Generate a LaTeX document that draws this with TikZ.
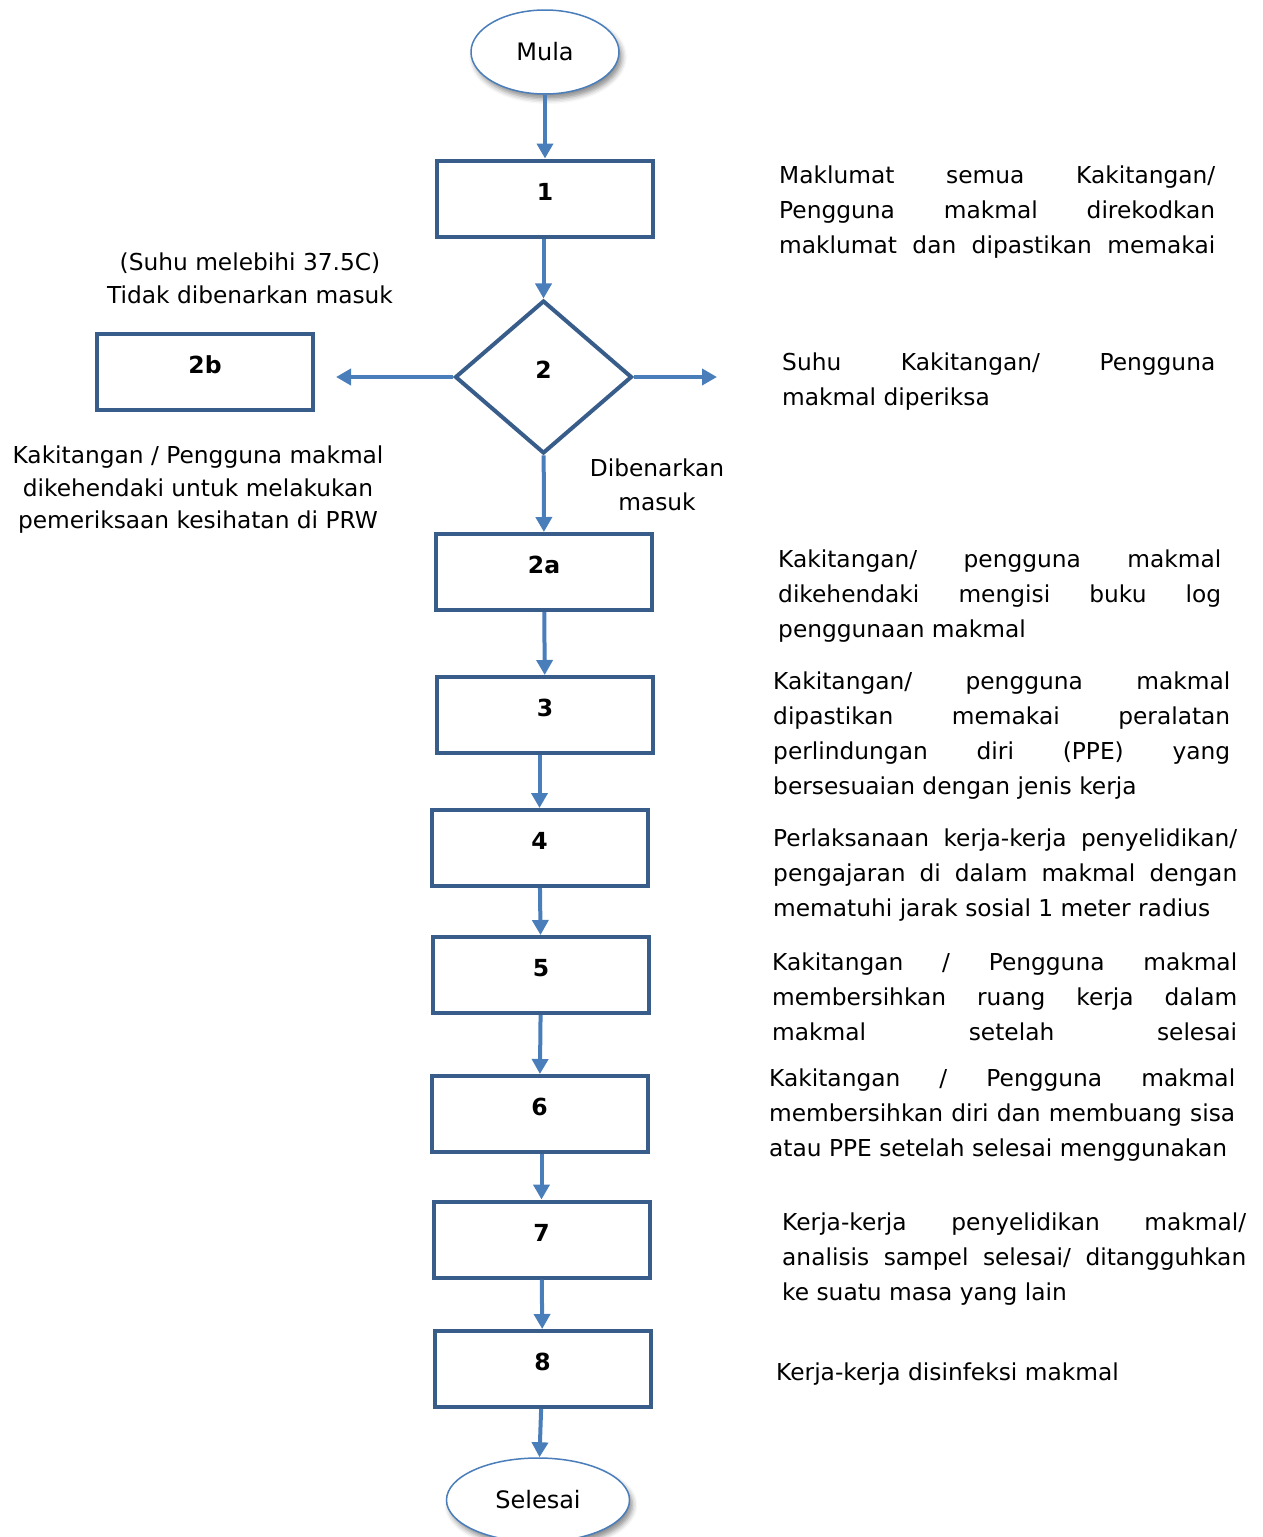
\documentclass[tikz,border=0pt]{standalone}
\usepackage{fontspec}
\setmainfont{DejaVu Sans}
\usepackage{xcolor}
\definecolor{flowblue}{RGB}{74,126,187}
\definecolor{boxblue}{RGB}{56,93,138}
\usetikzlibrary{shapes.geometric}
\usetikzlibrary{arrows.meta}
\usetikzlibrary{shadows.blur}
\hyphenpenalty=10000
\exhyphenpenalty=10000
\tolerance=10000
\newcommand{\widthbox}{216pt}
\newcommand{\heightbox}{76pt}
\newcommand{\notefont}{\fontsize{23.3}{34.7}\selectfont}
\tikzset{
    common/.style={draw=boxblue, line width=4pt, fill=white, inner sep=0pt,
        font=\fontsize{23.5}{28}\selectfont\bfseries, text height=17pt, text depth=14pt},
    stepbox/.style={common, rectangle, minimum width=\widthbox, minimum height=\heightbox},
    decision/.style={common, diamond, minimum width=177pt, minimum height=153pt},
    terminal/.style={ellipse, draw=flowblue, line width=1.5pt, fill=white,
        font=\fontsize{24}{28}\selectfont,
        blur shadow={shadow xshift=3pt, shadow yshift=-5pt, shadow blur radius=5pt, shadow opacity=45}},
    note/.style={anchor=north west, inner sep=0pt, align=justify, font=\notefont},
    sidenote/.style={anchor=north, inner sep=0pt, align=center, font=\fontsize{23.3}{32.5}\selectfont},
    flow/.style={-{Triangle[length=15pt, width=16pt]}, flowblue, line width=4pt}
}

\begin{document}
\begin{tikzpicture}[x=1pt, y=-1pt]
    \useasboundingbox (0,0) rectangle (1262,1537);

    % main column
    \node[terminal, minimum width=148pt, minimum height=84pt] (Mula) at (545,52) {Mula};
    \node[stepbox] (B1) at (545,198.5) {1};
    \node[decision] (D2) at (543.5,377) {2};
    \node[stepbox] (B2b) at (205,372) {2b};
    \node[stepbox] (B2a) at (544,572) {2a};
    \node[stepbox] (B3) at (545,715) {3};
    \node[stepbox] (B4) at (539.5,848) {4};
    \node[stepbox] (B5) at (541,975) {5};
    \node[stepbox] (B6) at (539.5,1114) {6};
    \node[stepbox] (B7) at (541.5,1239.5) {7};
    \node[stepbox] (B8) at (542.5,1369) {8};
    \node[terminal, minimum width=183pt, minimum height=84pt] (Selesai) at (538,1500) {Selesai};

    \coordinate (D2-left) at (336,377);
    \coordinate (D2-right) at (717,377);

    \draw[flow] (Mula) -- (B1);
    \draw[flow] (B1.south -| D2) -- (D2);
    \draw[flow] (D2) -- (D2-left);
    \draw[flow] (D2) -- (D2-right);
    \draw[flow] (D2) -- (B2a);
    \draw[flow] (B2a) -- (B3);
    \draw[flow] (B3.south -| B4) -- (B4);
    \draw[flow] (B4) -- (B5);
    \draw[flow] (B5) -- (B6);
    \draw[flow] (B6.south -| B7) -- (B7);
    \draw[flow] (B7) -- (B8);
    \draw[flow] (B8) -- (Selesai);

    % texts on the left
    \node[sidenote] (TooHot) at (250,253) {(Suhu melebihi 37.5C)\\Tidak dibenarkan masuk};
    \node[sidenote] (CheckUp) at (198,446) {Kakitangan / Pengguna makmal\\dikehendaki untuk melakukan\\pemeriksaan kesihatan di PRW};
    \node[sidenote, font=\fontsize{23.3}{34}\selectfont] (Allowed) at (657,459) {Dibenarkan\\masuk};

    % texts on the right
    \node[note, text width=436pt] (N1) at (779,166) {Maklumat semua Kakitangan/\linebreak Pengguna makmal direkodkan\linebreak maklumat dan dipastikan memakai\linebreak};
    \node[note, text width=433pt] (N2) at (782,353) {Suhu Kakitangan/ Pengguna\linebreak makmal diperiksa};
    \node[note, text width=443pt] (N2a) at (778,550) {Kakitangan/ pengguna makmal\linebreak dikehendaki mengisi buku log\linebreak penggunaan makmal};
    \node[note, text width=457pt] (N3) at (773,672) {Kakitangan/ pengguna makmal\linebreak dipastikan memakai peralatan\linebreak perlindungan diri (PPE) yang\linebreak bersesuaian dengan jenis kerja};
    \node[note, text width=464pt] (N4) at (773,829) {Perlaksanaan kerja-kerja penyelidikan/\linebreak pengajaran di dalam makmal dengan\linebreak mematuhi jarak sosial 1 meter radius};
    \node[note, text width=465pt] (N5) at (772,953) {Kakitangan / Pengguna makmal\linebreak membersihkan ruang kerja dalam\linebreak makmal setelah selesai\linebreak};
    \node[note, text width=466pt] (N6) at (769,1069) {Kakitangan / Pengguna makmal\linebreak membersihkan diri dan membuang sisa\linebreak atau PPE setelah selesai menggunakan};
    \node[note, text width=464pt] (N7) at (782,1213) {Kerja-kerja penyelidikan makmal/\linebreak analisis sampel selesai/ ditangguhkan\linebreak ke suatu masa yang lain};
    \node[note, text width=400pt] (N8) at (776,1363) {Kerja-kerja disinfeksi makmal};
\end{tikzpicture}
\end{document}
